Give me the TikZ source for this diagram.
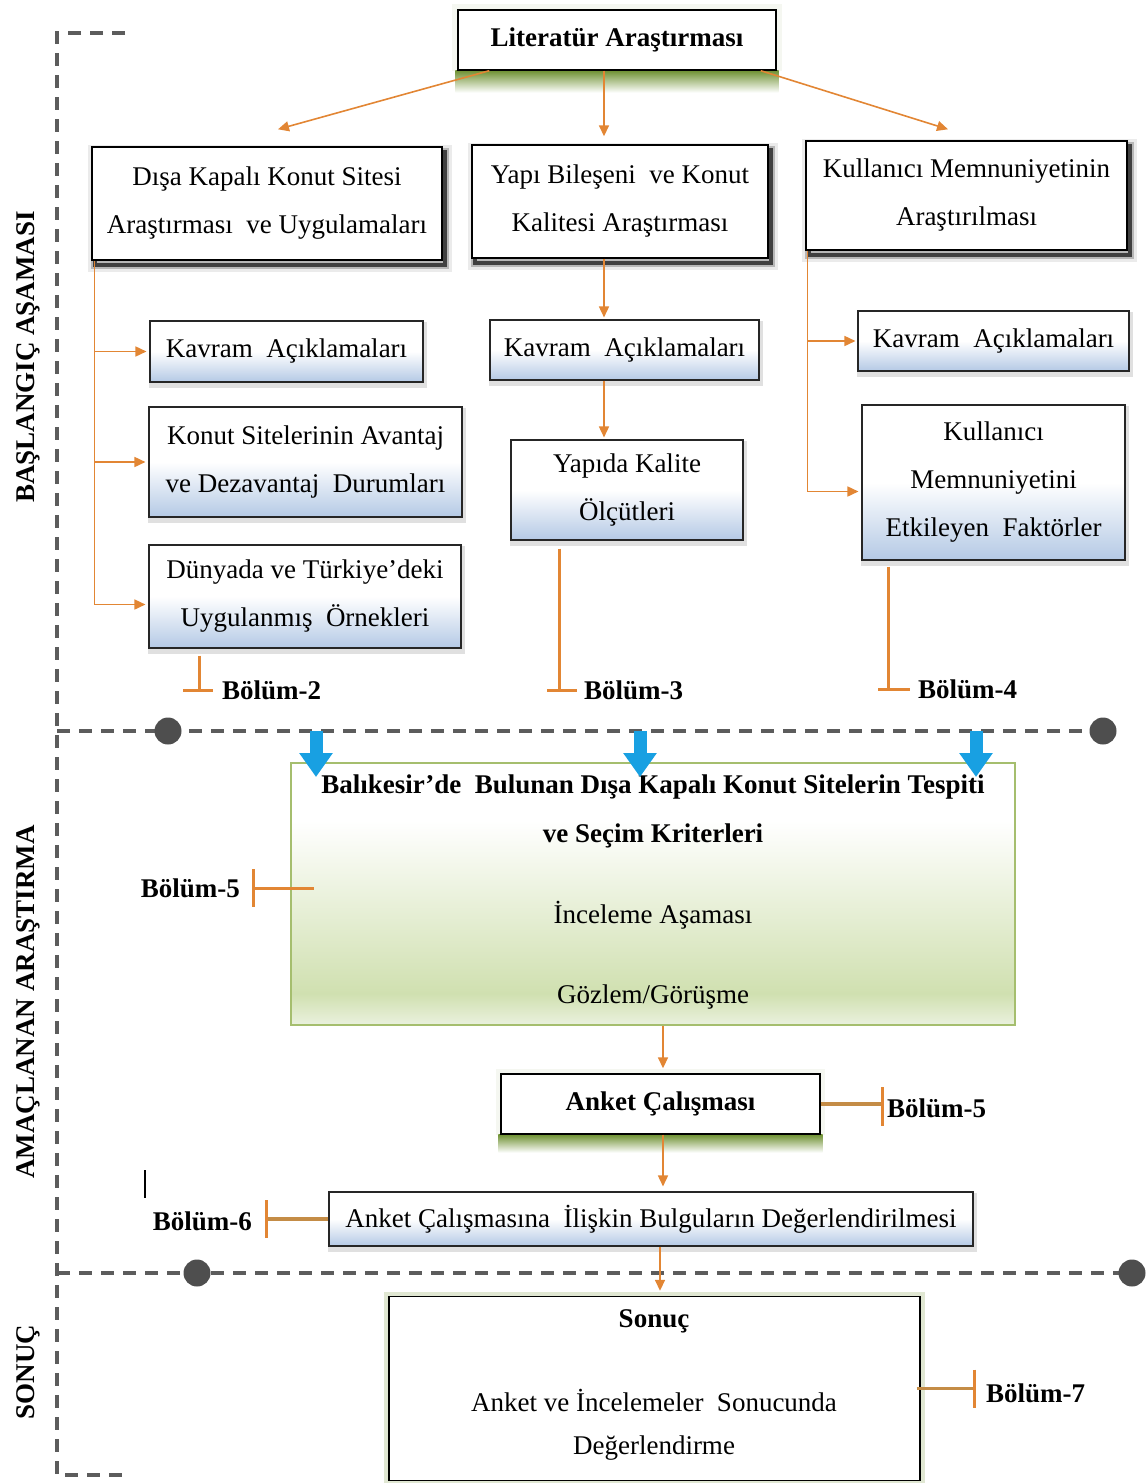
\documentclass[tikz,border=0pt]{standalone}
\usepackage{fontspec}
\setmainfont{Liberation Serif}
\usetikzlibrary{arrows.meta,backgrounds,calc}
\definecolor{orng}{RGB}{226,134,52}
\definecolor{brn}{RGB}{196,140,70}
\definecolor{dgray}{RGB}{92,92,92}
\definecolor{cyanarr}{RGB}{24,160,226}
\definecolor{bluesh}{RGB}{180,201,229}
\definecolor{gd}{RGB}{208,224,176}
\definecolor{gl}{RGB}{234,241,222}
\definecolor{olive}{RGB}{112,146,52}
\definecolor{gborder}{RGB}{165,190,110}
\pgfdeclareverticalshading{bluegrad}{100bp}{color(0bp)=(bluesh); color(25bp)=(bluesh); color(50bp)=(white); color(100bp)=(white)}
\pgfdeclareverticalshading{greengrad}{100bp}{color(0bp)=(gl); color(25bp)=(gl); color(31bp)=(gd); color(64bp)=(white); color(100bp)=(white)}
\tikzset{
  base/.style={font=\fontsize{27}{48}\selectfont, align=center, inner sep=0pt},
  wbox/.style={base, draw=black, line width=1.4pt, fill=white},
  bshadow/.style={
    preaction={draw=black, line width=14pt, opacity=0.08, transform canvas={xshift=3pt,yshift=-5pt}},
    preaction={draw=black, line width=8pt, opacity=0.22, transform canvas={xshift=3pt,yshift=-5pt}},
    preaction={draw=black, line width=4pt, opacity=0.65, transform canvas={xshift=3pt,yshift=-5pt}}},
  subbox/.style={base, draw=black!85, line width=1.1pt, shade, shading=bluegrad,
    preaction={draw=black, line width=5pt, opacity=0.12, transform canvas={xshift=1pt,yshift=-3pt}}},
  greenbox/.style={base, draw=gborder, line width=1.2pt, shade, shading=greengrad},
  arr/.style={draw=orng, line width=1.6pt, -{Triangle[length=11pt,width=10pt]}},
  oline/.style={draw=orng, line width=3pt},
  bline/.style={draw=brn, line width=3.4pt},
  divl/.style={draw=dgray, line width=3.5pt, dash pattern=on 13pt off 9pt},
  dot/.style={circle, fill=dgray!85!black, minimum size=27pt, inner sep=0pt},
  lbl/.style={font=\fontsize{27}{30}\selectfont\bfseries, inner sep=0pt},
  bluearr/.style={draw=cyanarr, line width=13pt, -{Triangle[length=24pt,width=32pt]}},
  txt/.style={font=\fontsize{27}{30}\selectfont, inner sep=0pt},
  btxt/.style={font=\fontsize{27}{30}\selectfont\bfseries, inner sep=0pt}
}
\begin{document}
\begin{tikzpicture}[x=1pt,y=-1pt]
\useasboundingbox (0,0) rectangle (1148,1483);
% frame
\draw[divl] (125,33) -- (57,33) -- (57,1475) -- (125,1475);
% side labels
\node[lbl, rotate=90] (s1) at (28,357) {BAŞLANGIÇ AŞAMASI};
\node[lbl, rotate=90] (s2) at (28,1002) {AMAÇLANAN ARAŞTIRMA};
\node[lbl, rotate=90] (s3) at (28,1372) {SONUÇ};

% top box
\node[wbox, minimum width=318pt, minimum height=60pt, font=\fontsize{27}{48}\selectfont\bfseries] (lit) at (617,40) {Literatür Araştırması};

% main boxes
\node[wbox, bshadow, minimum width=350pt, minimum height=113pt] (dis) at (267,203.5) {Dışa Kapalı Konut Sitesi\\Araştırması\ \ ve Uygulamaları};
\node[wbox, bshadow, minimum width=296pt, minimum height=113pt] (yap) at (620,201.5) {Yapı Bileşeni\ \ ve Konut\\Kalitesi Araştırması};
\node[wbox, bshadow, minimum width=321pt, minimum height=109pt] (kul) at (966.5,195.5) {Kullanıcı Memnuniyetinin\\Araştırılması};

% sub boxes
\node[subbox, minimum width=273pt, minimum height=61pt] (k1) at (286.5,351.5) {Kavram\ \ Açıklamaları};
\node[subbox, minimum width=313pt, minimum height=110pt] (kon) at (305.5,462) {Konut Sitelerinin Avantaj\\ve Dezavantaj\ \ Durumları};
\node[subbox, minimum width=312pt, minimum height=103pt] (dun) at (305,596.5) {Dünyada ve Türkiye’deki\\Uygulanmış\ \ Örnekleri};
\node[subbox, minimum width=269pt, minimum height=60pt] (k2) at (624.5,350) {Kavram\ \ Açıklamaları};
\node[subbox, minimum width=232pt, minimum height=100pt] (yk) at (627,490) {Yapıda Kalite\\Ölçütleri};
\node[subbox, minimum width=271pt, minimum height=60pt] (k3) at (993.5,341) {Kavram\ \ Açıklamaları};
\node[subbox, minimum width=263pt, minimum height=155pt] (kme) at (993.5,482.5) {Kullanıcı\\Memnuniyetini\\Etkileyen\ \ Faktörler};

% arrows from literature
\draw[arr] ([xshift=32pt]lit.south west) -- ([xshift=11pt,yshift=17pt]dis.north);
\draw[arr] ([xshift=-13pt]lit.south) -- ([xshift=-16pt,yshift=8pt]yap.north);
\draw[arr] ([xshift=-16pt]lit.south east) -- ([xshift=-18.5pt,yshift=11pt]kul.north);

% left column
\coordinate (lv) at ([xshift=3pt]dis.south west);
\draw[arr] (lv) |- ([xshift=-3pt,yshift=-8pt]dun.west);
\draw[arr] (lv |- k1.west) -- ([xshift=-3pt]k1.west);
\draw[arr] (lv |- kon.west) -- ([xshift=-3pt]kon.west);

% middle column
\draw[arr] ([xshift=-16pt]yap.south) -- ([xshift=-20.5pt,yshift=2pt]k2.north);
\draw[arr] ([xshift=-20.5pt]k2.south) -- ([xshift=-23pt,yshift=2pt]yk.north);

% right column
\coordinate (rv) at ([xshift=2pt]kul.south west);
\draw[arr] (rv) |- ([xshift=-3pt,yshift=-9pt]kme.west);
\draw[arr] (rv |- k3.west) -- ([xshift=-2pt]k3.west);

% Bolum 2,3,4
\node[lbl, anchor=west] (b2) at (222,690) {Bölüm-2};
\coordinate (d2) at ([xshift=-106pt,yshift=-7pt]dun.south);
\coordinate (t2) at (d2 |- b2.west);
\draw[oline] (d2) -- (t2);
\draw[oline] ([xshift=-16pt]t2) -- ([xshift=14pt]t2);

\node[lbl, anchor=west] (b3) at (584,690) {Bölüm-3};
\coordinate (d3) at ([xshift=-68pt,yshift=-8pt]yk.south);
\coordinate (t3) at (d3 |- b3.west);
\draw[oline] (d3) -- (t3);
\draw[oline] ([xshift=-12pt]t3) -- ([xshift=18pt]t3);

\node[lbl, anchor=west] (b4) at (918,689) {Bölüm-4};
\coordinate (d4) at ([xshift=-105.5pt,yshift=-6pt]kme.south);
\coordinate (t4) at (d4 |- b4.west);
\draw[oline] (d4) -- (t4);
\draw[oline] ([xshift=-10pt]t4) -- ([xshift=22pt]t4);

% divider 1
\coordinate (d1l) at (57,731);
\coordinate (d1r) at (1103,731);
\draw[divl] (d1l) -- (d1r);
\node[dot] (c1a) at (168,731) {};
\node[dot] (c1b) at (1103,731) {};

% green box
\node[greenbox, minimum width=724pt, minimum height=262pt] (grn) at (653,894) {};
\node[btxt] (g1) at (653,787) {Balıkesir’de\ \ Bulunan Dışa Kapalı Konut Sitelerin Tespiti};
\node[btxt] (g2) at (653,836) {ve Seçim Kriterleri};
\node[txt] (g3) at (653,915) {İnceleme Aşaması};
\node[txt] (g4) at (653,997) {Gözlem/Görüşme};

% blue arrows
\foreach \i/\xx in {1/316,2/640,3/976}{
  \coordinate (bs\i) at (\xx,731);
  \coordinate (be\i) at (\xx,777);
  \draw[bluearr] (bs\i) -- (be\i);
}

% Bolum-5 left
\node[lbl, anchor=east] (b5l) at (240,888) {Bölüm-5};
\coordinate (t5) at ([xshift=13pt]b5l.east);
\coordinate (gw) at ([xshift=24pt]grn.west);
\coordinate (e5) at (gw |- t5);
\draw[oline] (t5) -- (e5);
\draw[oline] ([yshift=19pt]t5) -- ([yshift=-19pt]t5);

% Anket box
\node[wbox, minimum width=319pt, minimum height=60pt, font=\fontsize{27}{48}\selectfont\bfseries] (ank) at (660.5,1104) {Anket Çalışması};
\draw[arr] ([xshift=10pt]grn.south) -- ([xshift=2.5pt,yshift=5pt]ank.north);

% Bolum-5 right
\node[lbl, anchor=west] (b5r) at (887,1108) {Bölüm-5};
\coordinate (t5r) at ([xshift=-5pt]b5r.west |- ank.east);
\draw[bline] (ank.east) -- (t5r);
\draw[oline] ([yshift=17pt]t5r) -- ([yshift=-22pt]t5r);

% Anket evaluation box
\node[subbox, minimum width=644pt, minimum height=54pt] (akb) at (651,1219) {Anket Çalışmasına\ \ İlişkin Bulguların Değerlendirilmesi};
\draw[arr] ([xshift=2.5pt]ank.south) -- ([xshift=12pt,yshift=5pt]akb.north);

% stray mark
\coordinate (sm1) at (145,1170);
\coordinate (sm2) at (145,1198);
\draw[black, line width=1.6pt] (sm1) -- (sm2);

% Bolum-6
\node[lbl, anchor=east] (b6) at (252,1221) {Bölüm-6};
\coordinate (t6) at ([xshift=14pt]b6.east |- akb.west);
\draw[bline] (t6) -- (akb.west);
\draw[oline] ([yshift=19pt]t6) -- ([yshift=-19pt]t6);

% divider 2
\coordinate (d2l) at (57,1273);
\coordinate (d2r) at (1132,1273);
\draw[divl] (d2l) -- (d2r);
\node[dot] (c2a) at (197,1273) {};
\node[dot] (c2b) at (1132,1273) {};

% Sonuc box
\node[wbox, minimum width=531pt, minimum height=184pt] (son) at (654.5,1388.5) {};
\node[btxt] (s1t) at (654,1321) {Sonuç};
\node[txt] (s2t) at (654,1400) {Anket ve İncelemeler\ \ Sonucunda};
\node[txt] (s3t) at (654,1448) {Değerlendirme};
\draw[arr] ([xshift=9pt]akb.south) -- ([xshift=5.5pt,yshift=5pt]son.north);

% Bolum-7
\node[lbl, anchor=west] (b7) at (986,1393) {Bölüm-7};
\coordinate (t7) at ([xshift=-12pt]b7.west |- son.east);
\draw[bline] ([xshift=-4pt]son.east) -- (t7);
\draw[oline] ([yshift=19pt]t7) -- ([yshift=-19pt]t7);

% glows
\begin{scope}[on background layer]
  \fill[olive!7] ([shift={(-5pt,5pt)}]lit.north west) rectangle ([shift={(5pt,0pt)}]lit.south east);
  \shade[top color=olive, bottom color=white] ([xshift=-2pt]lit.south west) rectangle ([xshift=2pt,yshift=-22pt]lit.south east);
  \fill[olive!7] ([shift={(-4pt,4pt)}]ank.north west) rectangle ([shift={(4pt,0pt)}]ank.south east);
  \shade[top color=olive, bottom color=white] ([xshift=-2pt]ank.south west) rectangle ([xshift=2pt,yshift=-18pt]ank.south east);
  \fill[olive!22] ([shift={(-4pt,4pt)}]son.north west) rectangle ([shift={(4pt,-4pt)}]son.south east);
\end{scope}
\end{tikzpicture}
\end{document}
